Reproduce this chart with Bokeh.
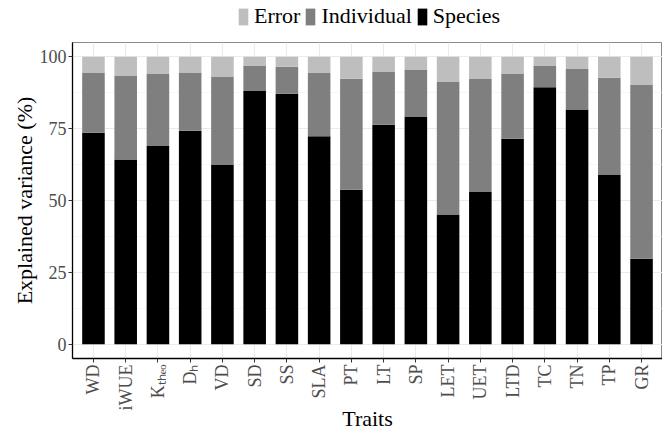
import math
from bokeh.plotting import figure
from bokeh.layouts import column
from bokeh.models import (FactorRange, Range1d, FixedTicker, Legend, LegendItem,
                          ColumnDataSource)
from bokeh.embed import file_html
from bokeh.resources import INLINE

traits = ["WD", "iWUE", "Kₜₕₑₒ", "Dₕ", "VD", "SD", "SS", "SLA", "PT", "LT",
          "SP", "LET", "UET", "LTD", "TC", "TN", "TP", "GR"]
species = [73.6, 64.3, 69.0, 74.3, 62.4, 88.1, 87.2, 72.4, 53.7, 76.4,
           79.1, 45.1, 53.0, 71.5, 89.4, 81.7, 58.9, 29.7]
individual = [21.0, 29.0, 25.0, 20.3, 30.8, 8.7, 9.4, 22.0, 38.7, 18.5,
              16.3, 46.3, 39.3, 22.7, 7.6, 14.1, 33.8, 60.5]
error = [5.4, 6.7, 6.0, 5.4, 6.8, 3.2, 3.4, 5.6, 7.6, 5.1,
         4.6, 8.6, 7.7, 5.8, 3.0, 4.2, 7.3, 9.8]
components = ["Species", "Individual", "Error"]
colors = ["#000000", "#7f7f7f", "#bebebe"]
y_ticks = [0, 25, 50, 75, 100]
y_minor = [12.5, 37.5, 62.5, 87.5]

FONT = "Liberation Serif"

src = ColumnDataSource(dict(trait=traits, Species=species,
                            Individual=individual, Error=error))

# ---- legend strip (top); its renderers only carry the key styles ----
strip = figure(width=662, height=41, output_backend="svg", toolbar_location=None,
               x_axis_type=None, y_axis_type=None,
               x_range=Range1d(0, 1), y_range=Range1d(0, 1),
               min_border_left=0, min_border_right=0, min_border_top=0,
               min_border_bottom=0)
strip.outline_line_color = None
strip.xgrid.visible = False
strip.ygrid.visible = False
placeholder = ColumnDataSource(dict(x=[float("nan")], top=[float("nan")]))
key_rs = {c: strip.vbar(x="x", top="top", width=0.1, source=placeholder,
                        fill_color=col, line_color=None)
          for c, col in zip(components, colors)}
legend = Legend(items=[LegendItem(label=c, renderers=[key_rs[c]])
                       for c in reversed(components)],
                orientation="horizontal", location=(165, 12),
                glyph_width=12, glyph_height=21, label_height=21,
                label_standoff=5, spacing=4, padding=0, margin=0,
                border_line_color=None, background_fill_alpha=0,
                label_text_font=FONT, label_text_font_size="22px",
                label_text_color="#000000")
strip.add_layout(legend)

# ---- main chart ----
p = figure(width=662, height=393, output_backend="svg", toolbar_location=None,
           x_range=FactorRange(factors=traits, range_padding=0.15,
                               range_padding_units="absolute"),
           y_range=Range1d(-5, 105),
           min_border_left=72, min_border_right=0, min_border_top=1,
           min_border_bottom=0)

p.vbar_stack(components, x="trait", width=0.7, source=src, color=colors,
             line_color=None)

p.yaxis.ticker = FixedTicker(ticks=y_ticks, minor_ticks=y_minor)
p.yaxis.axis_label = "Explained variance (%)"
p.xaxis.axis_label = "Traits"
for ax in (p.xaxis, p.yaxis):
    ax.axis_label_text_font = FONT
    ax.axis_label_text_font_size = "22px"
    ax.axis_label_text_font_style = "normal"
    ax.axis_label_text_color = "#000000"
    ax.major_label_text_font = FONT
    ax.major_label_text_font_size = "18px"
    ax.major_label_text_color = "#4d4d4d"
    ax.axis_line_color = "#000000"
    ax.axis_line_width = 1.3
    ax.major_tick_in = 0
    ax.major_tick_out = 4
    ax.major_tick_line_color = "#333333"
    ax.minor_tick_line_color = None
    ax.major_label_standoff = 2
p.xaxis.major_label_orientation = math.pi / 2
p.xaxis.axis_label_standoff = -7
p.yaxis.axis_label_standoff = 0

p.ygrid.grid_line_color = "#ebebeb"
p.ygrid.grid_line_width = 1.1
p.ygrid.minor_grid_line_color = "#f2f2f2"
p.ygrid.minor_grid_line_width = 0.6
p.xgrid.grid_line_color = "#ebebeb"
p.xgrid.grid_line_width = 1.1

p.outline_line_color = "#8a8a8a"
p.outline_line_width = 1
p.background_fill_color = "#ffffff"
p.border_fill_color = "#ffffff"

layout = column(strip, p, spacing=0)
open("out.html", "w").write(file_html(layout, INLINE))
